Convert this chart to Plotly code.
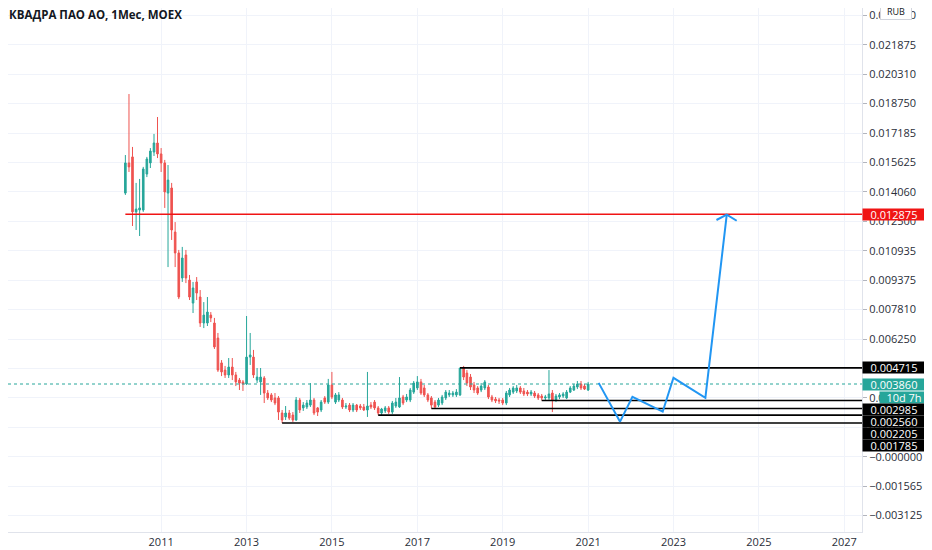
import pandas as pd
import plotly.graph_objects as go

# monthly candles, KVADRA (MOEX), Mar 2010 .. Jan 2021
months = pd.date_range('2010-03-01', periods=131, freq='MS')

opens = [
    0.01400, 0.01560, 0.01592, 0.01300, 0.01310, 0.01310, 0.01501, 0.01560, 0.01618, 0.01666,
    0.01608, 0.01560, 0.01400, 0.01427, 0.01193, 0.01082, 0.00949, 0.01071, 0.00938, 0.00816,
    0.00928, 0.00848, 0.00710, 0.00710, 0.00752, 0.00710, 0.00630, 0.00498, 0.00460, 0.00434,
    0.00476, 0.00434, 0.00407, 0.00397, 0.00386, 0.00529, 0.00529, 0.00407, 0.00397, 0.00418,
    0.00338, 0.00328, 0.00312, 0.00312, 0.00232, 0.00211, 0.00232, 0.00221, 0.00195, 0.00301,
    0.00259, 0.00264, 0.00274, 0.00301, 0.00259, 0.00248, 0.00312, 0.00290, 0.00381, 0.00290,
    0.00301, 0.00301, 0.00264, 0.00274, 0.00248, 0.00274, 0.00269, 0.00264, 0.00248, 0.00274,
    0.00290, 0.00259, 0.00232, 0.00243, 0.00259, 0.00237, 0.00269, 0.00264, 0.00317, 0.00301,
    0.00301, 0.00343, 0.00365, 0.00397, 0.00365, 0.00328, 0.00312, 0.00290, 0.00274, 0.00285,
    0.00312, 0.00328, 0.00328, 0.00328, 0.00328, 0.00471, 0.00444, 0.00423, 0.00381, 0.00365,
    0.00354, 0.00365, 0.00370, 0.00317, 0.00306, 0.00301, 0.00301, 0.00285, 0.00328, 0.00343,
    0.00349, 0.00365, 0.00349, 0.00343, 0.00333, 0.00338, 0.00328, 0.00322, 0.00312, 0.00312,
    0.00338, 0.00301, 0.00317, 0.00322, 0.00312, 0.00343, 0.00354, 0.00370, 0.00386, 0.00375,
    0.00354]
highs = [
    0.01602, 0.01926, 0.01645, 0.01454, 0.01475, 0.01539, 0.01592, 0.01639, 0.01714, 0.01804,
    0.01639, 0.01576, 0.01549, 0.01454, 0.01246, 0.01098, 0.01114, 0.01098, 0.00965, 0.00928,
    0.00954, 0.00885, 0.00821, 0.00848, 0.00768, 0.00737, 0.00657, 0.00513, 0.00482, 0.00524,
    0.00524, 0.00450, 0.00418, 0.00407, 0.00747, 0.00657, 0.00567, 0.00471, 0.00471, 0.00428,
    0.00354, 0.00338, 0.00338, 0.00322, 0.00248, 0.00269, 0.00248, 0.00237, 0.00317, 0.00312,
    0.00290, 0.00301, 0.00391, 0.00312, 0.00264, 0.00301, 0.00322, 0.00413, 0.00450, 0.00338,
    0.00343, 0.00312, 0.00285, 0.00285, 0.00285, 0.00280, 0.00280, 0.00280, 0.00450, 0.00290,
    0.00301, 0.00269, 0.00259, 0.00269, 0.00269, 0.00296, 0.00312, 0.00423, 0.00328, 0.00333,
    0.00365, 0.00402, 0.00428, 0.00413, 0.00381, 0.00338, 0.00322, 0.00301, 0.00312, 0.00328,
    0.00354, 0.00354, 0.00349, 0.00359, 0.004715, 0.00482, 0.00460, 0.00439, 0.00397, 0.00375,
    0.00391, 0.00407, 0.00381, 0.00328, 0.00317, 0.00312, 0.00312, 0.00349, 0.00365, 0.00375,
    0.00381, 0.00375, 0.00365, 0.00354, 0.00354, 0.00349, 0.00338, 0.00333, 0.00328, 0.00460,
    0.00354, 0.00333, 0.00338, 0.00343, 0.00354, 0.00375, 0.00386, 0.00402, 0.00402, 0.00386,
    0.00397]
lows = [
    0.01390, 0.01512, 0.01225, 0.01204, 0.01172, 0.01300, 0.01485, 0.01533, 0.01597, 0.01586,
    0.01512, 0.01321, 0.01007, 0.01151, 0.01007, 0.00837, 0.00928, 0.00922, 0.00832, 0.00763,
    0.00832, 0.00689, 0.00683, 0.00694, 0.00715, 0.00572, 0.00450, 0.00428, 0.00418, 0.00418,
    0.00407, 0.00375, 0.00354, 0.00349, 0.00381, 0.00487, 0.00418, 0.00391, 0.00328, 0.00285,
    0.00301, 0.00290, 0.00274, 0.00195, 0.001785, 0.00195, 0.00195, 0.00184, 0.00190, 0.00232,
    0.00243, 0.00253, 0.00264, 0.00221, 0.00216, 0.00237, 0.00280, 0.00280, 0.00306, 0.00280,
    0.00290, 0.00253, 0.00253, 0.00237, 0.00237, 0.00237, 0.00248, 0.00243, 0.00211, 0.00253,
    0.00248, 0.002205, 0.00221, 0.00232, 0.00227, 0.00227, 0.00259, 0.00259, 0.00274, 0.00290,
    0.00290, 0.00333, 0.00354, 0.00328, 0.00317, 0.00290, 0.00256, 0.00259, 0.00264, 0.00274,
    0.00301, 0.00317, 0.00317, 0.00317, 0.00322, 0.00407, 0.00375, 0.00354, 0.00338, 0.00328,
    0.00343, 0.00354, 0.00306, 0.00290, 0.00285, 0.00280, 0.00274, 0.00274, 0.00317, 0.00333,
    0.00338, 0.00333, 0.00322, 0.00322, 0.00322, 0.00312, 0.00301, 0.002985, 0.00301, 0.00301,
    0.00237, 0.00290, 0.00306, 0.00312, 0.00306, 0.00338, 0.00349, 0.00359, 0.00354, 0.00354,
    0.00349]
closes = [
    0.01560, 0.01539, 0.01300, 0.01315, 0.01321, 0.01528, 0.01581, 0.01623, 0.01666, 0.01608,
    0.01560, 0.01406, 0.01469, 0.01204, 0.01082, 0.00848, 0.01055, 0.00949, 0.00848, 0.00896,
    0.00869, 0.00710, 0.00752, 0.00768, 0.00737, 0.00583, 0.00460, 0.00450, 0.00434, 0.00476,
    0.00434, 0.00397, 0.00391, 0.00386, 0.00529, 0.00540, 0.00434, 0.00423, 0.00423, 0.00338,
    0.00312, 0.00301, 0.00285, 0.00237, 0.00195, 0.00232, 0.00205, 0.00195, 0.00301, 0.00248,
    0.00274, 0.00285, 0.00301, 0.00232, 0.00237, 0.00290, 0.00290, 0.00381, 0.00317, 0.00328,
    0.00328, 0.00264, 0.00269, 0.00248, 0.00274, 0.00248, 0.00259, 0.00248, 0.00269, 0.00264,
    0.00259, 0.00232, 0.00253, 0.00259, 0.00237, 0.00285, 0.00290, 0.00312, 0.00285, 0.00317,
    0.00354, 0.00391, 0.00397, 0.00338, 0.00328, 0.00301, 0.00274, 0.00264, 0.00301, 0.00317,
    0.00343, 0.00338, 0.00338, 0.00343, 0.00471, 0.00423, 0.00391, 0.00370, 0.00354, 0.00338,
    0.00375, 0.00397, 0.00317, 0.00301, 0.00296, 0.00296, 0.00285, 0.00338, 0.00354, 0.00365,
    0.00365, 0.00343, 0.00333, 0.00333, 0.00343, 0.00322, 0.00312, 0.00312, 0.00317, 0.00333,
    0.00301, 0.00322, 0.00328, 0.00333, 0.00343, 0.00365, 0.00375, 0.00386, 0.00365, 0.00359,
    0.00386]

# drawn levels (value, start of the ray)
level_vals = [0.012875, 0.004715, 0.002985, 0.002560, 0.002205, 0.001785]
level_start = ['2010-03-01', '2018-01-01', '2019-12-01', '2017-05-01', '2016-02-01', '2013-11-01']

# hand-drawn forecast path + arrow head
proj_dates = ['2021-04-01', '2021-10-01', '2022-01-15', '2022-10-01', '2023-01-01', '2023-10-01', '2024-04-01']
proj_vals = [0.00392, 0.00186, 0.00318, 0.00239, 0.00419, 0.00313, 0.01285]
head_dates = ['2024-01-04', '2024-04-01', '2024-06-25']
head_vals = [0.01257, 0.01285, 0.01253]

year_ticks = ['2011-01-01', '2013-01-01', '2015-01-01', '2017-01-01', '2019-01-01',
              '2021-01-01', '2023-01-01', '2025-01-01', '2027-01-01']
year_text = ['2011', '2013', '2015', '2017', '2019', '2021', '2023', '2025', '2027']

tick_vals = [-0.003125, -0.0015625, 0.0, 0.0015625, 0.003125, 0.0046875, 0.00625, 0.0078125,
             0.009375, 0.0109375, 0.0125, 0.0140625, 0.015625, 0.0171875, 0.01875, 0.0203125,
             0.021875, 0.0234375]
tick_text = ['\u22120.003125', '\u22120.001565', '\u22120.000000', '0.001565', '0.003125', '0.004690',
             '0.006250', '0.007810', '0.009375', '0.010935', '0.012500', '0.014060', '0.015625',
             '0.017185', '0.018750', '0.020310', '0.021875', '0.023440']

UP, DOWN = '#26a69a', '#ef5350'
RED, BLUE = '#f01414', '#2196f3'
X0, X1 = '2007-06-01', '2027-06-02'
Y0, Y1 = -0.004, 0.023829
PLOT_H = 524

fig = go.Figure()
fig.add_trace(go.Candlestick(x=months, open=opens, high=highs, low=lows, close=closes,
                             increasing=dict(line=dict(color=UP, width=1), fillcolor=UP),
                             decreasing=dict(line=dict(color=DOWN, width=1), fillcolor=DOWN),
                             whiskerwidth=0, hoverinfo='skip'))

last = closes[-1]
fig.add_trace(go.Scatter(x=[X0, X1], y=[last, last], mode='lines',
                         line=dict(color=UP, width=1, dash='dot'), hoverinfo='skip'))

for v, s in zip(level_vals, level_start):
    col = RED if v == level_vals[0] else '#000000'
    fig.add_trace(go.Scatter(x=[s, X1], y=[v, v], mode='lines', line=dict(color=col, width=1.6),
                             hoverinfo='skip'))

fig.add_trace(go.Scatter(x=proj_dates, y=proj_vals, mode='lines', line=dict(color=BLUE, width=2),
                         hoverinfo='skip'))
fig.add_trace(go.Scatter(x=head_dates, y=head_vals, mode='lines', line=dict(color=BLUE, width=2),
                         hoverinfo='skip'))


def to_px(v):
    return (Y1 - v) / (Y1 - Y0) * PLOT_H


def to_val(p):
    return Y1 - p / PLOT_H * (Y1 - Y0)


def price_label(v, text, bg, xshift=0, width=62):
    fig.add_annotation(x=1, xref='paper', y=v, yref='y', xanchor='left', yanchor='middle',
                       xshift=xshift, text=text, showarrow=False, bgcolor=bg, width=width,
                       height=11, borderpad=0, font=dict(color='white', size=11))


price_label(level_vals[0], '%.6f' % level_vals[0], RED)

# stacked labels on the price scale
stack = [(level_vals[1], '#000000'), (last, UP), ('timer', UP)] + \
        [(v, '#000000') for v in level_vals[2:]]
prev = -1e9
for v, bg in stack:
    if v == 'timer':
        p = prev + 13
        price_label(to_val(p), '10d 7h', bg, xshift=17, width=48)
    else:
        p = max(to_px(v), prev + 12)
        price_label(to_val(p), '%.6f' % v, bg)
    prev = p

fig.add_annotation(x=0, xref='paper', y=1, yref='paper', xanchor='left', yanchor='middle',
                   xshift=-1, yshift=-6, showarrow=False,
                   text='<b>КВАДРА ПАО АО, 1Мес, MOEX</b>', font=dict(size=11.5, color='#131722'))
fig.add_annotation(x=1, xref='paper', y=1, yref='paper', xanchor='left', yanchor='middle',
                   xshift=18, yshift=-3, showarrow=False, text='RUB', bgcolor='white', width=28,
                   bordercolor='#d1d4dc', borderwidth=1, borderpad=1,
                   font=dict(size=9, color='#131722'))

# page has an 8px body margin, so the figure is 8px smaller than the window
fig.update_layout(width=924, height=542, margin=dict(l=0, r=70, t=0, b=18, pad=0),
                  paper_bgcolor='white', plot_bgcolor='white', showlegend=False,
                  font=dict(family='Open Sans', size=11, color='#2a2e39'))
fig.update_xaxes(range=[X0, X1], rangeslider_visible=False, tickvals=year_ticks, ticktext=year_text,
                 showgrid=True, gridcolor='#f0f3fa', showline=True,
                 linecolor='#e0e3eb', zeroline=False, automargin=False)
fig.update_yaxes(side='right', range=[Y0, Y1], tickvals=tick_vals, ticktext=tick_text,
                 gridcolor='#f0f3fa', showline=True, linecolor='#e0e3eb', ticks='outside',
                 ticklen=4, tickcolor='#b2b5be', zeroline=False, automargin=False,
                 ticklabeloverflow='allow')

fig.write_html('out.html')
